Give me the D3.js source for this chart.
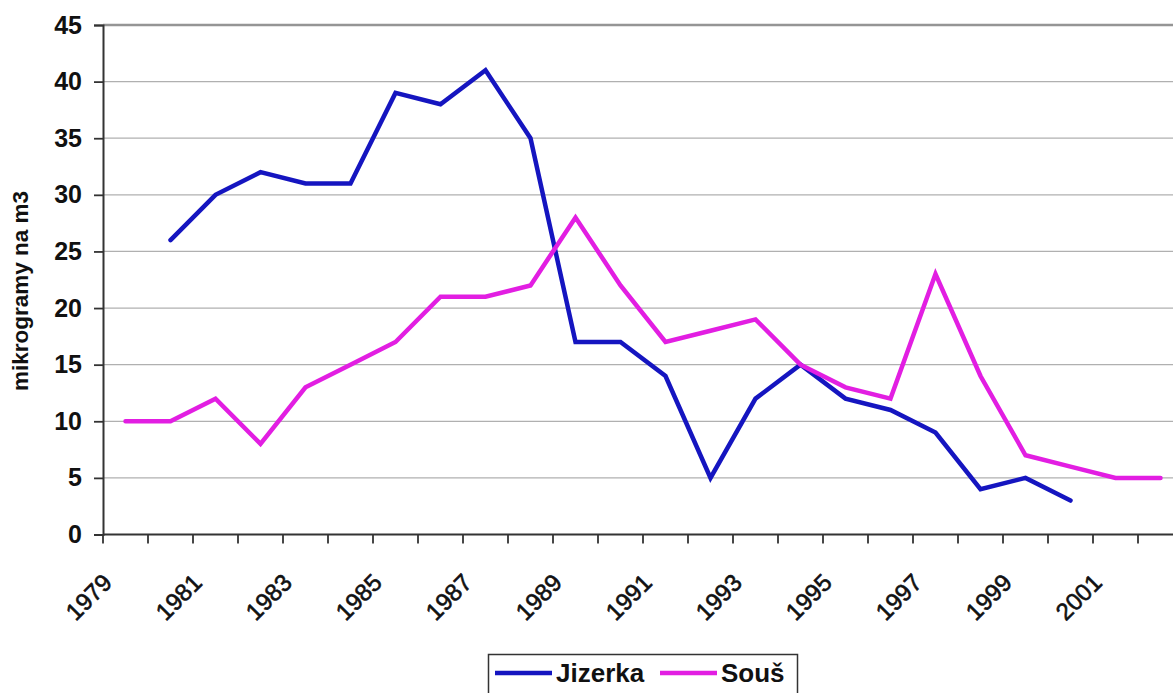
<!DOCTYPE html>
<html><head><meta charset="utf-8">
<script src="https://cdn.jsdelivr.net/npm/d3@7"></script>
<style>html,body{margin:0;padding:0;background:#fff;overflow:hidden}svg{display:block}</style>
</head><body>
<svg id="c" width="1173" height="693"></svg>
<script>
const years = ["1979","1980","1981","1982","1983","1984","1985","1986","1987","1988","1989","1990","1991","1992","1993","1994","1995","1996","1997","1998","1999","2000","2001","2002"];
const jizerka = [null,26,30,32,31,31,39,38,41,35,17,17,14,5,12,15,12,11,9,4,5,3,null,null];
const sous = [10,10,12,8,13,15,17,21,21,22,28,22,17,18,19,15,13,12,23,14,7,6,5,5];
const yTicks = [0,5,10,15,20,25,30,35,40,45];
const xLabels = ["1979","1981","1983","1985","1987","1989","1991","1993","1995","1997","1999","2001"];
const seriesNames = ["Jizerka","Souš"];
const colors = ["#1515c0","#e21ee2"];

const svg = d3.select("#c");
const font = "'Liberation Sans', Arial, sans-serif";
const x = d3.scaleBand().domain(years).range([103, 1183]).padding(0);
const y = d3.scaleLinear().domain([0,45]).range([534.5, 25]);
const cx = d => x(d) + x.bandwidth()/2;

// gridlines
svg.append("g").selectAll("line").data(yTicks.filter(v=>v>0)).join("line")
  .attr("x1",103).attr("x2",1183).attr("y1",d=>y(d)).attr("y2",d=>y(d))
  .attr("stroke", d=> d===45 ? "#959595" : "#b0b0b0")
  .attr("stroke-width", d=> d===45 ? 2.5 : 1.2);

// y axis
const yAxis = svg.append("g").attr("transform","translate(103,0)")
  .call(d3.axisLeft(y).tickValues(yTicks).tickSize(9).tickPadding(12));
yAxis.select(".domain").attr("stroke","#333").attr("stroke-width",2);
yAxis.selectAll(".tick line").attr("stroke","#333").attr("stroke-width",1.8);
yAxis.selectAll(".tick text").attr("font-family",font).attr("font-size",25)
  .attr("font-weight","bold").attr("fill","#111");

// x axis line + ticks at category boundaries
const bounds = years.map(d=>x(d)).concat([x.range()[1]]);
svg.append("line").attr("x1",103).attr("x2",1183).attr("y1",y(0)).attr("y2",y(0))
  .attr("stroke","#333").attr("stroke-width",2);
svg.append("g").selectAll("line").data(bounds).join("line")
  .attr("x1",d=>d).attr("x2",d=>d).attr("y1",y(0)).attr("y2",y(0)+9)
  .attr("stroke","#333").attr("stroke-width",1.8);

// x labels
svg.append("g").selectAll("text").data(xLabels).join("text")
  .attr("transform", d=>`translate(${cx(d)-12},${584}) rotate(-45)`)
  .attr("text-anchor","end").attr("font-family",font).attr("font-size",24)
  .attr("fill","#111").attr("stroke","#111").attr("stroke-width",0.6).text(d=>d);

// y title
svg.append("text").attr("transform","translate(28,291) rotate(-90)")
  .attr("text-anchor","middle").attr("font-family",font).attr("font-size",22.5)
  .attr("font-weight","bold").attr("fill","#111").text("mikrogramy na m3");

// lines
const line = d3.line().defined(d=>d.v!=null).x(d=>cx(d.year)).y(d=>y(d.v));
[jizerka, sous].forEach((arr,i)=>{
  svg.append("path").datum(years.map((yr,j)=>({year:yr, v:arr[j]})))
    .attr("d", line).attr("fill","none").attr("stroke",colors[i])
    .attr("stroke-width",4.5).attr("stroke-linejoin","miter").attr("stroke-linecap","round");
});

// legend
const lg = svg.append("g");
lg.append("rect").attr("x",488.5).attr("y",654.5).attr("width",309).attr("height",46)
  .attr("fill","#fff").attr("stroke","#333").attr("stroke-width",1.5);
const lx = [495, 660];
seriesNames.forEach((n,i)=>{
  lg.append("line").attr("x1",lx[i]).attr("x2",lx[i]+57).attr("y1",673).attr("y2",673)
    .attr("stroke",colors[i]).attr("stroke-width",4.5);
  lg.append("text").attr("x",lx[i]+61).attr("y",682).attr("font-family",font)
    .attr("font-size",26).attr("font-weight","bold").attr("fill","#111").text(n);
});
</script>
</body></html>
